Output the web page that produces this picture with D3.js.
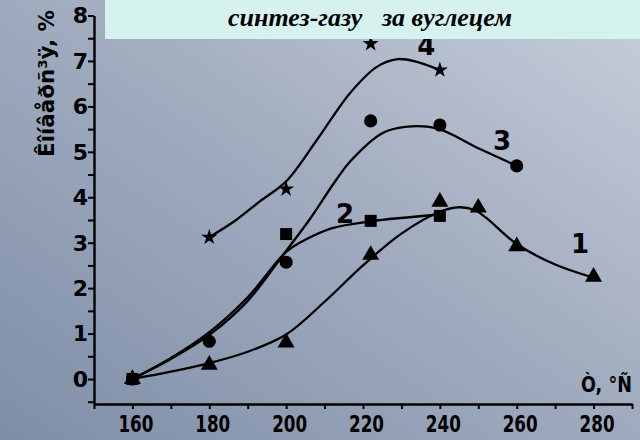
<!DOCTYPE html>
<html>
<head>
<meta charset="utf-8">
<script src="https://cdn.jsdelivr.net/npm/d3@7/dist/d3.min.js"></script>
<style>
  html, body { margin: 0; padding: 0; background: #a3aec0; }
  svg { display: block; }
</style>
</head>
<body>
<svg id="chart" width="640" height="440"></svg>
<script>
// Measured points (temperature, °C / conversion, %)
const s1Temp = [160, 180, 200, 222, 240, 250, 260, 280];
const s1Val  = [0, 0.31, 0.80, 2.73, 3.90, 3.77, 2.92, 2.25];
const s2Temp = [160, 200, 222, 240];
const s2Val  = [0, 3.19, 3.48, 3.59];
const s3Temp = [160, 180, 200, 222, 240, 260];
const s3Val  = [0, 0.83, 2.57, 5.68, 5.59, 4.69];
const s4Temp = [180, 200, 222, 240];
const s4Val  = [3.12, 4.18, 7.38, 6.80];

// Smoothed trend curves drawn through the measurements
const fit1Temp = [160, 170, 180, 190, 200, 210, 220, 230, 240, 245, 249, 252, 260, 270, 280];
const fit1Val  = [0, 0.16, 0.35, 0.60, 0.98, 1.70, 2.50, 3.20, 3.68, 3.78, 3.72, 3.55, 2.97, 2.52, 2.23];
const fit2Temp = [160, 170, 180, 190, 200, 204, 212, 222, 240];
const fit2Val  = [0, 0.46, 1.03, 1.80, 2.80, 3.02, 3.32, 3.47, 3.62];
const fit3Temp = [160, 170, 180, 190, 200, 206, 213, 217, 225, 231, 239, 250, 260];
const fit3Val  = [0, 0.44, 0.97, 1.72, 2.82, 3.50, 4.38, 4.82, 5.41, 5.55, 5.52, 5.08, 4.69];
const fit4Temp = [180, 187, 193, 200, 208, 216.6, 223.6, 229, 234, 240];
const fit4Val  = [3.12, 3.50, 3.90, 4.35, 5.26, 6.29, 6.87, 7.04, 6.98, 6.80];

// Axis ticks and labels
const xTickValues = [160, 180, 200, 220, 240, 260, 280];
const xTickLabels = ["160", "180", "200", "220", "240", "260", "280"];
const yTickValues = [0, 1, 2, 3, 4, 5, 6, 7, 8];
const yTickLabels = ["0", "1", "2", "3", "4", "5", "6", "7", "8"];

// Curve numbers placed next to the curves
const curveNames = ["1", "2", "3", "4"];
const curveNameTemp = [276.5, 215.3, 256.2, 236.5];
const curveNameVal  = [2.98, 3.65, 5.25, 7.33];

const titleText = "синтез-газу   за вуглецем";
const yTitle = "Êîíâåðñ³ÿ, %";
const xTitle = "Ò, °Ñ";

const svg = d3.select("#chart");
const W = 640, H = 440;

const defs = svg.append("defs");
const grad = defs.append("linearGradient")
  .attr("id", "bg").attr("x1", "0").attr("y1", "1").attr("x2", "1").attr("y2", "0");
grad.append("stop").attr("offset", "0").attr("stop-color", "#7f8ea7");
grad.append("stop").attr("offset", "0.55").attr("stop-color", "#a2adc0");
grad.append("stop").attr("offset", "1").attr("stop-color", "#c6ced9");
svg.append("rect").attr("width", W).attr("height", H).attr("fill", "url(#bg)");

const x = d3.scaleLinear().domain([150, 290]).range([94, 632]);
const y = d3.scaleLinear().domain([-0.55, 8]).range([404, 15.5]);

const ink = "#000";
const tickFont = "'DejaVu Sans', sans-serif";

// X axis
const xAxis = d3.axisBottom(x)
  .tickValues(d3.range(150, 291, 10))
  .tickSize(5).tickSizeOuter(0).tickFormat("");
const gx = svg.append("g").attr("transform", `translate(0,${y(-0.55)})`).call(xAxis);
gx.select(".domain").attr("stroke", ink).attr("stroke-width", 2.4);
gx.selectAll(".tick line").attr("stroke", ink).attr("stroke-width", 2);

svg.append("g").selectAll("text").data(xTickValues).join("text")
  .attr("x", d => x(d) + 3.5)
  .attr("y", 432)
  .attr("text-anchor", "middle")
  .attr("font-family", tickFont)
  .attr("font-weight", "bold")
  .attr("font-size", 23)
  .attr("textLength", 35)
  .attr("lengthAdjust", "spacingAndGlyphs")
  .attr("fill", ink)
  .text((d, i) => xTickLabels[i]);

// Y axis
const yAxis = d3.axisLeft(y)
  .tickValues(d3.range(-0.5, 8.01, 0.5))
  .tickSize(6).tickSizeOuter(0).tickFormat("");
const gy = svg.append("g").attr("transform", `translate(${x(150)},0)`).call(yAxis);
gy.select(".domain").attr("stroke", ink).attr("stroke-width", 2.4);
gy.selectAll(".tick line").attr("stroke", ink).attr("stroke-width", 2);

svg.append("g").selectAll("text").data(yTickValues).join("text")
  .attr("x", 88)
  .attr("y", d => y(d))
  .attr("dy", "0.36em")
  .attr("text-anchor", "end")
  .attr("font-family", tickFont)
  .attr("font-weight", "bold")
  .attr("font-size", 22)
  .attr("fill", ink)
  .text((d, i) => yTickLabels[i]);

// Axis titles
svg.append("text")
  .attr("transform", "translate(54,157) rotate(-90)")
  .attr("font-family", tickFont)
  .attr("font-weight", "bold")
  .attr("font-size", 22)
  .attr("textLength", 147)
  .attr("lengthAdjust", "spacingAndGlyphs")
  .attr("fill", ink)
  .text(yTitle);

svg.append("text")
  .attr("x", 581).attr("y", 392)
  .attr("font-family", tickFont)
  .attr("font-weight", "bold")
  .attr("font-size", 22)
  .attr("textLength", 51)
  .attr("lengthAdjust", "spacingAndGlyphs")
  .attr("fill", ink)
  .text(xTitle);

// Trend curves
const line = d3.line()
  .x(d => x(d[0])).y(d => y(d[1]))
  .curve(d3.curveCatmullRom.alpha(0.5));
const fits = [
  [fit1Temp, fit1Val], [fit2Temp, fit2Val], [fit3Temp, fit3Val], [fit4Temp, fit4Val]
];
svg.append("g").selectAll("path").data(fits).join("path")
  .attr("d", f => line(f[0].map((t, i) => [t, f[1][i]])))
  .attr("fill", "none")
  .attr("stroke", ink)
  .attr("stroke-width", 2.3)
  .attr("stroke-linejoin", "round");

// Markers
const markerSets = [
  { t: s2Temp, v: s2Val, type: d3.symbolSquare, size: 144 },
  { t: s3Temp, v: s3Val, type: d3.symbolCircle, size: 135 },
  { t: s1Temp, v: s1Val, type: d3.symbolTriangle, size: 125 },
  { t: s4Temp, v: s4Val, type: d3.symbolStar, size: 80 }
];
markerSets.forEach(m => {
  const sym = d3.symbol().type(m.type).size(m.size);
  svg.append("g").selectAll("path").data(m.t).join("path")
    .attr("transform", (t, i) => `translate(${x(t)},${y(m.v[i])})`)
    .attr("d", sym)
    .attr("fill", ink);
});

// Curve numbers
svg.append("g").selectAll("text").data(curveNames).join("text")
  .attr("x", (d, i) => x(curveNameTemp[i]))
  .attr("y", (d, i) => y(curveNameVal[i]))
  .attr("dy", "0.36em")
  .attr("text-anchor", "middle")
  .attr("font-family", tickFont)
  .attr("font-weight", "bold")
  .attr("font-size", 26)
  .attr("fill", ink)
  .text(d => d);

// Title banner
svg.append("rect")
  .attr("x", 105).attr("y", 0).attr("width", W - 105).attr("height", 39)
  .attr("fill", "#d6f2ee");
svg.append("text")
  .attr("x", 370).attr("y", 26)
  .attr("text-anchor", "middle")
  .attr("font-family", "'Liberation Serif', 'Times New Roman', serif")
  .attr("font-style", "italic")
  .attr("font-weight", "bold")
  .attr("font-size", 26)
  .style("white-space", "pre")
  .attr("fill", ink)
  .text(titleText);
</script>
</body>
</html>
